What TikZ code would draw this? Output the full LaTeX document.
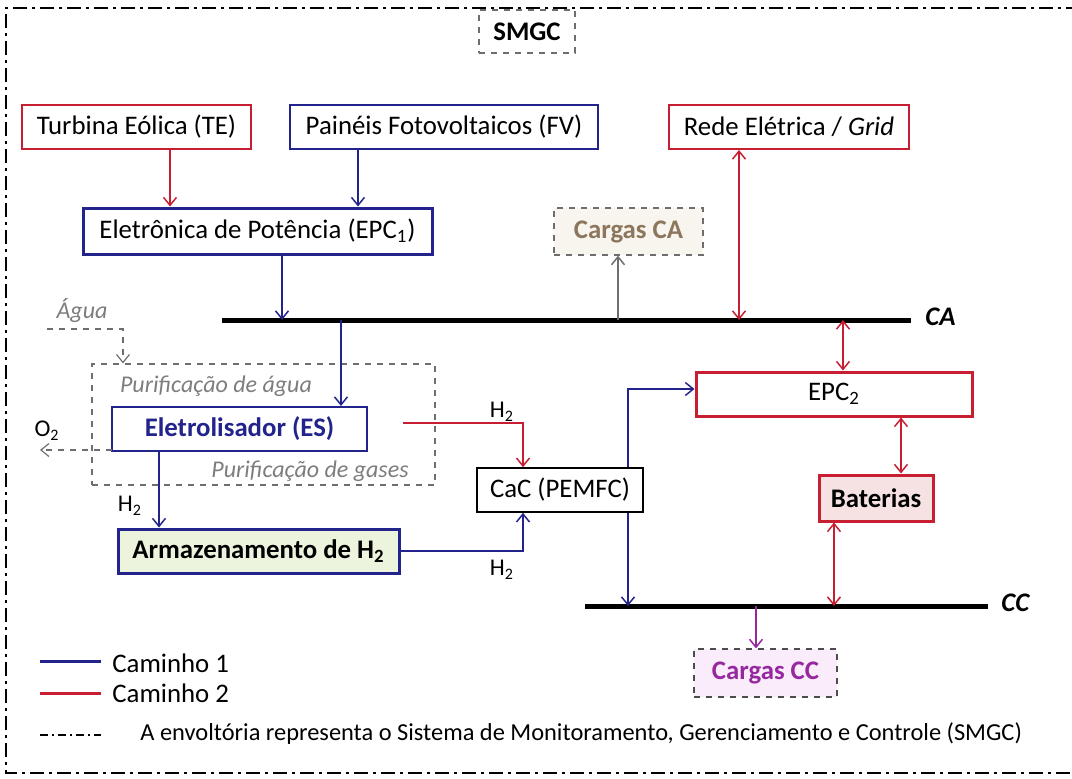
\documentclass[tikz,border=0pt]{standalone}
\usepackage{fontspec}
\setmainfont{Carlito}
\usetikzlibrary{arrows.meta,calc}
\definecolor{cred}{RGB}{200,30,50}
\definecolor{cblue}{RGB}{35,35,140}
\definecolor{cgray}{RGB}{110,110,110}
\definecolor{tgray}{RGB}{125,125,125}
\definecolor{cbrown}{RGB}{140,118,92}
\definecolor{fbeige}{RGB}{248,244,238}
\definecolor{cpurp}{RGB}{150,40,160}
\definecolor{fpurp}{RGB}{250,236,250}
\definecolor{fgreen}{RGB}{236,244,222}
\definecolor{fpink}{RGB}{246,226,226}
\begin{document}
\begin{tikzpicture}[x=0.5pt,y=-0.5pt,
  font=\fontsize{13.4}{16}\selectfont,
  box/.style={draw, rectangle, inner sep=0pt, line width=1pt},
  thickbox/.style={box, line width=1.5pt},
  dbox/.style={draw=cgray, dashed, rectangle, inner sep=0pt, line width=0.6pt},
  arr/.style={line width=0.75pt, -{Straight Barb[length=4pt,width=6.5pt]}},
  darr/.style={line width=0.75pt, {Straight Barb[length=4pt,width=6.5pt]}-{Straight Barb[length=4pt,width=6.5pt]}},
  garr/.style={arr, draw=cgray, dashed},
  bus/.style={line width=2.5pt, black},
  lbl/.style={inner sep=0pt},
  ital/.style={inner sep=0pt, text=tgray, font=\fontsize{12}{14}\selectfont\itshape},
  sml/.style={inner sep=0pt, font=\fontsize{12}{14}\selectfont},
  border/.style={line width=0.9pt, dash pattern=on 7pt off 2.5pt on 1.5pt off 2.5pt}
]
\useasboundingbox (0,0) rectangle (1072,778);

% outer envelope
\draw[border] (1080,8) -- (6,8) -- (6,773) -- (1080,773);

% SMGC label
\node[dbox, minimum width=48pt, minimum height=21.5pt, font=\fontsize{13.4}{16}\selectfont\bfseries] (smgc) at (527,31.5) {SMGC};

% sources
\node[box, draw=cred, minimum width=114.5pt, minimum height=22pt] (TE) at (136.5,127) {Turbina Eólica (TE)};
\node[box, draw=cblue, minimum width=154pt, minimum height=22pt] (FV) at (444,127) {Painéis Fotovoltaicos (FV)};
\node[box, draw=cred, minimum width=120pt, minimum height=22pt] (Rede) at (789,127) {Rede Elétrica / \textit{Grid}};

\node[thickbox, draw=cblue, minimum width=174.5pt, minimum height=23pt] (EPC1) at (257.5,231) {Eletrônica de Potência (EPC\textsubscript{1})};
\node[dbox, fill=fbeige, minimum width=74.5pt, minimum height=23.5pt, text=cbrown, font=\fontsize{13.4}{16}\selectfont\bfseries] (CargasCA) at (628.5,231.5) {Cargas CA};

% AC bus
\coordinate (CAl) at (222,320);
\coordinate (CAr) at (911,320);
\draw[bus] (CAl) -- (CAr);
\node[lbl, anchor=west, font=\fontsize{13.4}{16}\selectfont\bfseries\itshape] (CAlab) at (925,317) {CA};

% water purification / electrolyser
\node[dbox, minimum width=171.5pt, minimum height=60.5pt] (Purif) at (263.5,424.5) {};
\node[ital] (pagua) at (216,386) {Purificação de água};
\node[ital] (pgases) at (310,471) {Purificação de gases};
\node[ital] (agua) at (82,311) {Água};
\coordinate (aguaS) at (47,329);
\draw[garr, line width=0.6pt] (aguaS) -| (123,0 |- Purif.north);

\node[box, draw=cblue, minimum width=127.5pt, minimum height=22pt, text=cblue, font=\fontsize{13.4}{16}\selectfont\bfseries] (ES) at (239.5,429) {Eletrolisador (ES)};
\node[sml] (o2) at (47,431) {O\textsubscript{2}};
\coordinate (o2end) at (40,450);
\draw[garr, line width=0.6pt] (112,0 |- o2end) -- (o2end);

\node[thickbox, draw=cblue, fill=fgreen, minimum width=140.5pt, minimum height=22pt, font=\fontsize{13.4}{16}\selectfont\bfseries] (Arm) at (258.5,551) {Armazenamento de H\textsubscript{2}};

\node[box, line width=0.8pt, minimum width=83pt, minimum height=22pt] (CaC) at (560,490) {CaC (PEMFC)};

\node[thickbox, draw=cred, minimum width=138pt, minimum height=22pt] (EPC2) at (834,394) {EPC\textsubscript{2}};
\node[thickbox, draw=cred, fill=fpink, minimum width=57pt, minimum height=23pt, font=\fontsize{13.4}{16}\selectfont\bfseries] (Bat) at (876,498) {Baterias};

% DC bus
\coordinate (CCl) at (585,606);
\coordinate (CCr) at (988,606);
\draw[bus] (CCl) -- (CCr);
\node[lbl, anchor=west, font=\fontsize{13.4}{16}\selectfont\bfseries\itshape] (CClab) at (1001,603) {CC};

\node[draw=black!70, dashed, line width=0.6pt, inner sep=0pt, fill=fpurp, minimum width=71.5pt, minimum height=24pt, text=cpurp, font=\fontsize{13.4}{16}\selectfont\bfseries] (CargasCC) at (765.5,673) {Cargas CC};

% H2 labels
\node[sml] (h2a) at (502,412) {H\textsubscript{2}};
\node[sml] (h2b) at (130,506) {H\textsubscript{2}};
\node[sml] (h2c) at (502,570) {H\textsubscript{2}};

% connectors
\draw[arr, cred] (170,0 |- TE.south) -- (170,0 |- EPC1.north);
\draw[arr, cblue] (358,0 |- FV.south) -- (358,0 |- EPC1.north);
\draw[arr, cblue] (282,0 |- EPC1.south) -- (282,0 |- CAl);
\draw[arr, cgray] (618,0 |- CAl) -- (618,0 |- CargasCA.south);
\draw[darr, cred] (739,0 |- Rede.south) -- (739,0 |- CAl);
\draw[darr, cred] (843,0 |- CAl) -- (843,0 |- EPC2.north);
\draw[arr, cblue] (341,0 |- CAl) -- (341,0 |- ES.north);

\coordinate (h2start) at (403,423);
\draw[arr, cred] (h2start) -| (523,0 |- CaC.north);
\draw[arr, cblue] (159,0 |- ES.south) -- (159,0 |- Arm.north);
\draw[arr, cblue] (Arm.east) -| (523,0 |- CaC.south);

\draw[arr, cblue] (628,0 |- CaC.north) |- ($(EPC2.west)+(0,-5)$);
\draw[arr, cblue] (628,0 |- CaC.south) -- (628,0 |- CCl);
\draw[darr, cred] (901,0 |- EPC2.south) -- (901,0 |- Bat.north);
\draw[darr, cred] (834,0 |- Bat.south) -- (834,0 |- CCl);
\draw[arr, cpurp] (756,0 |- CCl) -- (756,0 |- CargasCC.north);

% legend
\coordinate (l1a) at (40,661); \coordinate (l1b) at (101,661);
\draw[cblue, line width=1.5pt] (l1a) -- (l1b);
\node[lbl, anchor=west] (leg1) at (112,663) {Caminho 1};
\coordinate (l2a) at (40,693); \coordinate (l2b) at (101,693);
\draw[cred, line width=1.5pt] (l2a) -- (l2b);
\node[lbl, anchor=west] (leg2) at (112,693) {Caminho 2};
\coordinate (l3a) at (40,735); \coordinate (l3b) at (101,735);
\draw[line width=0.8pt, dash pattern=on 4pt off 2pt on 1pt off 2pt] (l3a) -- (l3b);
\node[lbl, anchor=west, font=\fontsize{12.2}{14}\selectfont] (leg3) at (140,734) {A envoltória representa o Sistema de Monitoramento, Gerenciamento e Controle (SMGC)};
\end{tikzpicture}
\end{document}
